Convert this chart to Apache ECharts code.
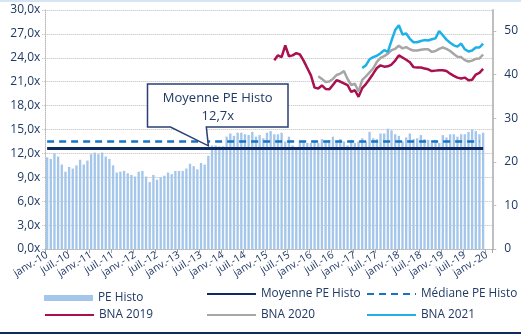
<!DOCTYPE html>
<html>
<head>
<meta charset="utf-8">
<script src="https://cdn.jsdelivr.net/npm/echarts@6/dist/echarts.min.js"></script>
<style>
  html, body { margin: 0; padding: 0; background: #fff; }
  #chart { width: 521px; height: 335px; }
</style>
</head>
<body>
<div id="chart"></div>
<script>
// Monthly axis: janv. 2010 -> févr. 2020
const MONTHS_FR = ['janv.', 'févr.', 'mars', 'avr.', 'mai', 'juin', 'juil.', 'août', 'sept.', 'oct.', 'nov.', 'déc.'];
const FIRST_YEAR = 2010;
const MONTH_COUNT = 122;

// Historical P/E (left axis, x)
const PE_HISTO = [
  11.5, 11.3, 12.0, 11.6, 10.6, 9.7, 10.3, 10.1, 10.5, 11.2, 10.6, 11.1,
  11.9, 12.1, 11.9, 12.1, 11.6, 11.3, 10.5, 9.6, 9.7, 9.8, 9.5, 9.3,
  9.1, 9.7, 9.8, 9.1, 8.4, 9.3, 8.7, 9.0, 9.2, 9.6, 9.4, 9.8,
  9.8, 9.8, 10.1, 10.7, 10.4, 10.0, 10.8, 10.6, 11.7, 13.0, 13.0, 12.9,
  12.9, 14.1, 14.5, 14.2, 14.6, 14.6, 14.4, 14.3, 14.7, 14.1, 14.3, 13.9,
  14.6, 14.8, 14.4, 14.4, 14.6, 13.5, 14.1, 13.0, 12.8, 13.6, 13.5, 13.3,
  13.3, 13.5, 13.3, 13.8, 13.6, 13.7, 14.1, 13.4, 13.8, 13.5, 13.0, 13.7,
  13.3, 13.5, 13.9, 13.5, 14.7, 13.9, 13.8, 14.5, 14.5, 15.1, 14.9, 14.4,
  14.2, 13.5, 14.0, 14.5, 13.8, 13.9, 14.3, 13.8, 13.7, 13.3, 13.7, 13.3,
  14.3, 14.0, 14.4, 14.4, 14.1, 14.4, 14.4, 14.7, 15.0, 14.8, 14.4, 14.6
];
const MEAN_PE = 12.7;
const MEDIAN_PE = 13.5;

// Consensus EPS by fiscal year (right axis); each list starts at its month index
const BNA_2019_START = 62;
const BNA_2019 = [
  43.3, 44.4, 44.0, 46.7, 44.2, 44.4, 44.9, 44.6, 43.2, 41.5, 39.8, 37.0,
  36.8, 37.5, 36.7, 36.6, 37.6, 38.7, 38.4, 38.0, 37.6, 36.0, 36.4, 34.9,
  36.9, 37.8, 39.0, 40.2, 41.5, 42.1, 41.8, 41.9, 42.3, 43.2, 44.4, 43.9,
  43.4, 42.8, 41.7, 41.6, 41.6, 41.4, 41.2, 40.8, 40.9, 41.0, 41.0, 40.8,
  40.2, 39.7, 39.3, 39.1, 39.3, 38.7, 38.8, 40.0, 40.4, 41.3
];
const BNA_2020_START = 74;
const BNA_2020 = [
  39.6, 39.0, 38.3, 38.4, 39.0, 39.9, 40.2, 40.8, 39.0, 37.6, 37.9, 36.1,
  38.8, 39.6, 40.5, 41.4, 42.9, 43.8, 44.2, 44.8, 45.6, 45.9, 46.6, 46.0,
  46.3, 45.8, 45.5, 45.5, 45.7, 45.8, 45.8, 45.2, 45.4, 45.9, 46.2, 45.9,
  45.4, 44.7, 44.1, 44.0, 43.3, 43.0, 43.2, 43.6, 43.7, 44.6
];
const BNA_2021_START = 86;
const BNA_2021 = [
  41.5, 42.1, 43.5, 44.0, 44.3, 44.9, 45.6, 45.2, 47.8, 50.2, 51.3, 49.2,
  49.4, 48.2, 47.4, 47.4, 47.7, 47.9, 47.8, 48.1, 48.3, 50.0, 49.0, 48.0,
  47.3, 46.7, 46.4, 47.1, 45.8, 45.3, 45.5, 46.2, 46.2, 47.1
];

// Axis ticks
const LEFT_MAX = 30;
const LEFT_STEP = 3;
const RIGHT_MAX = 54.8;
const RIGHT_TICKS = [0, 10, 20, 30, 40, 50];
const CALLOUT_INDEX = 44;

const NAVY = '#1f3864';
const FONT = '"Open Sans", "Noto Sans", sans-serif';

const categories = [];
for (let i = 0; i < MONTH_COUNT; i++) {
  const y = FIRST_YEAR + Math.floor(i / 12);
  categories.push(MONTHS_FR[i % 12] + '-' + String(y).slice(2));
}

function placeAt(start, values) {
  const out = new Array(MONTH_COUNT).fill(null);
  values.forEach((v, k) => { out[start + k] = v; });
  return out;
}

const frNum = (v, d) => v.toFixed(d).replace('.', ',');

const chart = echarts.init(document.getElementById('chart'), null, { renderer: 'canvas' });

const legendBase = {
  orient: 'horizontal',
  padding: 0,
  itemWidth: 49,
  itemHeight: 14,
  itemGap: 0,
  selectedMode: false,
  // line-only keys: hide the marker dot, keep the stroke
  itemStyle: { opacity: 0 },
  textStyle: { color: NAVY, fontSize: 11.8, fontFamily: FONT }
};

const option = {
  animation: false,
  textStyle: { fontFamily: FONT },
  grid: { left: 45.3, right: 28.7, top: 10, bottom: 86, containLabel: false },
  legend: [
    Object.assign({}, legendBase, {
      left: 44, top: 292, data: [{ name: 'PE Histo', icon: 'rect' }],
      itemWidth: 49, itemHeight: 6, itemStyle: { opacity: 1 }
    }),
    Object.assign({}, legendBase, { left: 206, top: 288, data: ['Moyenne PE Histo'] }),
    Object.assign({}, legendBase, { left: 366, top: 288, data: ['Médiane PE Histo'] }),
    Object.assign({}, legendBase, { left: 44, top: 309, data: ['BNA 2019'] }),
    Object.assign({}, legendBase, { left: 206, top: 309, data: ['BNA 2020'] }),
    Object.assign({}, legendBase, { left: 366, top: 309, data: ['BNA 2021'] })
  ],
  xAxis: {
    type: 'category',
    data: categories,
    boundaryGap: true,
    axisLine: { show: true, lineStyle: { color: '#b8b8b8', type: 'dotted', width: 1 } },
    axisTick: { show: true, interval: 5, length: 4, lineStyle: { color: '#a6a6a6' } },
    axisLabel: {
      interval: 5, rotate: 32, margin: 5,
      color: NAVY, fontSize: 10.5, fontFamily: FONT
    },
    splitLine: { show: false }
  },
  yAxis: [
    {
      type: 'value', min: 0, max: LEFT_MAX, interval: LEFT_STEP,
      axisLine: { show: true, lineStyle: { color: '#b8b8b8', type: 'dotted' } },
      axisTick: { show: true, length: 3, lineStyle: { color: '#b8b8b8', type: 'dotted' } },
      axisLabel: { color: NAVY, fontSize: 12, margin: 5, fontFamily: FONT, formatter: v => frNum(v, 1) + 'x' },
      splitLine: { show: true, lineStyle: { color: '#bdbdbd', type: 'dotted', width: 1 } }
    },
    {
      type: 'value', min: 0, max: RIGHT_MAX, position: 'right',
      axisLine: { show: true, lineStyle: { color: '#bfbfbf', width: 2 } },
      axisTick: { show: true, length: 4, customValues: RIGHT_TICKS, lineStyle: { color: '#bfbfbf', width: 1 } },
      axisLabel: { color: NAVY, fontSize: 12, margin: 12, fontFamily: FONT, customValues: RIGHT_TICKS },
      splitLine: { show: false }
    }
  ],
  series: [
    {
      name: 'PE Histo', type: 'bar', yAxisIndex: 0,
      data: PE_HISTO, barWidth: '64%',
      itemStyle: { color: '#a3c6ea' },
      silent: true, z: 1
    },
    {
      name: 'Moyenne PE Histo', type: 'line', yAxisIndex: 0,
      data: [], symbol: 'none', itemStyle: { color: '#0e2a5e' },
      lineStyle: { color: '#0e2a5e', width: 3 },
      markLine: {
        silent: true, symbol: ['none', 'none'], label: { show: false },
        lineStyle: { color: '#0e2a5e', width: 3, type: 'solid' },
        data: [[{ coord: [0, MEAN_PE] }, { coord: [PE_HISTO.length - 1, MEAN_PE] }]]
      },
      z: 3
    },
    {
      name: 'Médiane PE Histo', type: 'line', yAxisIndex: 0,
      data: [], symbol: 'none', itemStyle: { color: '#1874c2' },
      lineStyle: { color: '#1874c2', width: 2.5, type: [7, 5] },
      markLine: {
        silent: true, symbol: ['none', 'none'], label: { show: false },
        lineStyle: { color: '#1874c2', width: 2.5, type: [7, 5] },
        data: [[{ coord: [0, MEDIAN_PE] }, { coord: [PE_HISTO.length - 2, MEDIAN_PE] }]]
      },
      z: 3
    },
    {
      name: 'BNA 2019', type: 'line', yAxisIndex: 1,
      data: placeAt(BNA_2019_START, BNA_2019), symbol: 'none', connectNulls: false,
      itemStyle: { color: '#a8104f' }, lineStyle: { color: '#a8104f', width: 2.5 }, z: 4
    },
    {
      name: 'BNA 2020', type: 'line', yAxisIndex: 1,
      data: placeAt(BNA_2020_START, BNA_2020), symbol: 'none',
      itemStyle: { color: '#a6a6a6' }, lineStyle: { color: '#a6a6a6', width: 2.5 }, z: 4
    },
    {
      name: 'BNA 2021', type: 'line', yAxisIndex: 1,
      data: placeAt(BNA_2021_START, BNA_2021), symbol: 'none',
      itemStyle: { color: '#1cb2e8' }, lineStyle: { color: '#1cb2e8', width: 2.5 }, z: 4
    }
  ]
};

chart.setOption(option);

// Frame rules and the callout that points at the average P/E line
const tip = chart.convertToPixel({ xAxisIndex: 0, yAxisIndex: 0 }, [CALLOUT_INDEX, MEAN_PE]);
const box = { x1: 147.5, y1: 84, x2: 288, y2: 127 };
const cx = (box.x1 + box.x2) / 2;
chart.setOption({
  graphic: [
    { type: 'rect', shape: { x: 0, y: 0, width: 521, height: 2 }, style: { fill: '#d6e5f4' }, silent: true },
    { type: 'rect', shape: { x: 0, y: 332, width: 521, height: 2 }, style: { fill: '#0e2a5e' }, silent: true },
    {
      type: 'polygon', silent: true, z: 100,
      shape: {
        points: [
          [box.x1, box.y1], [box.x2, box.y1], [box.x2, box.y2],
          [tip[0] - 2, box.y2], [tip[0], tip[1] - 2], [box.x1 + 23, box.y2], [box.x1, box.y2]
        ]
      },
      style: { fill: '#ffffff', stroke: '#2b3f73', lineWidth: 1.5 }
    },
    {
      type: 'text', silent: true, z: 101,
      style: { text: 'Moyenne PE Histo', x: cx, y: 98, align: 'center', verticalAlign: 'middle', font: '13px ' + FONT, fill: NAVY }
    },
    {
      type: 'text', silent: true, z: 101,
      style: { text: frNum(MEAN_PE, 1) + 'x', x: cx, y: 116, align: 'center', verticalAlign: 'middle', font: '13px ' + FONT, fill: NAVY }
    }
  ]
});
</script>
</body>
</html>
